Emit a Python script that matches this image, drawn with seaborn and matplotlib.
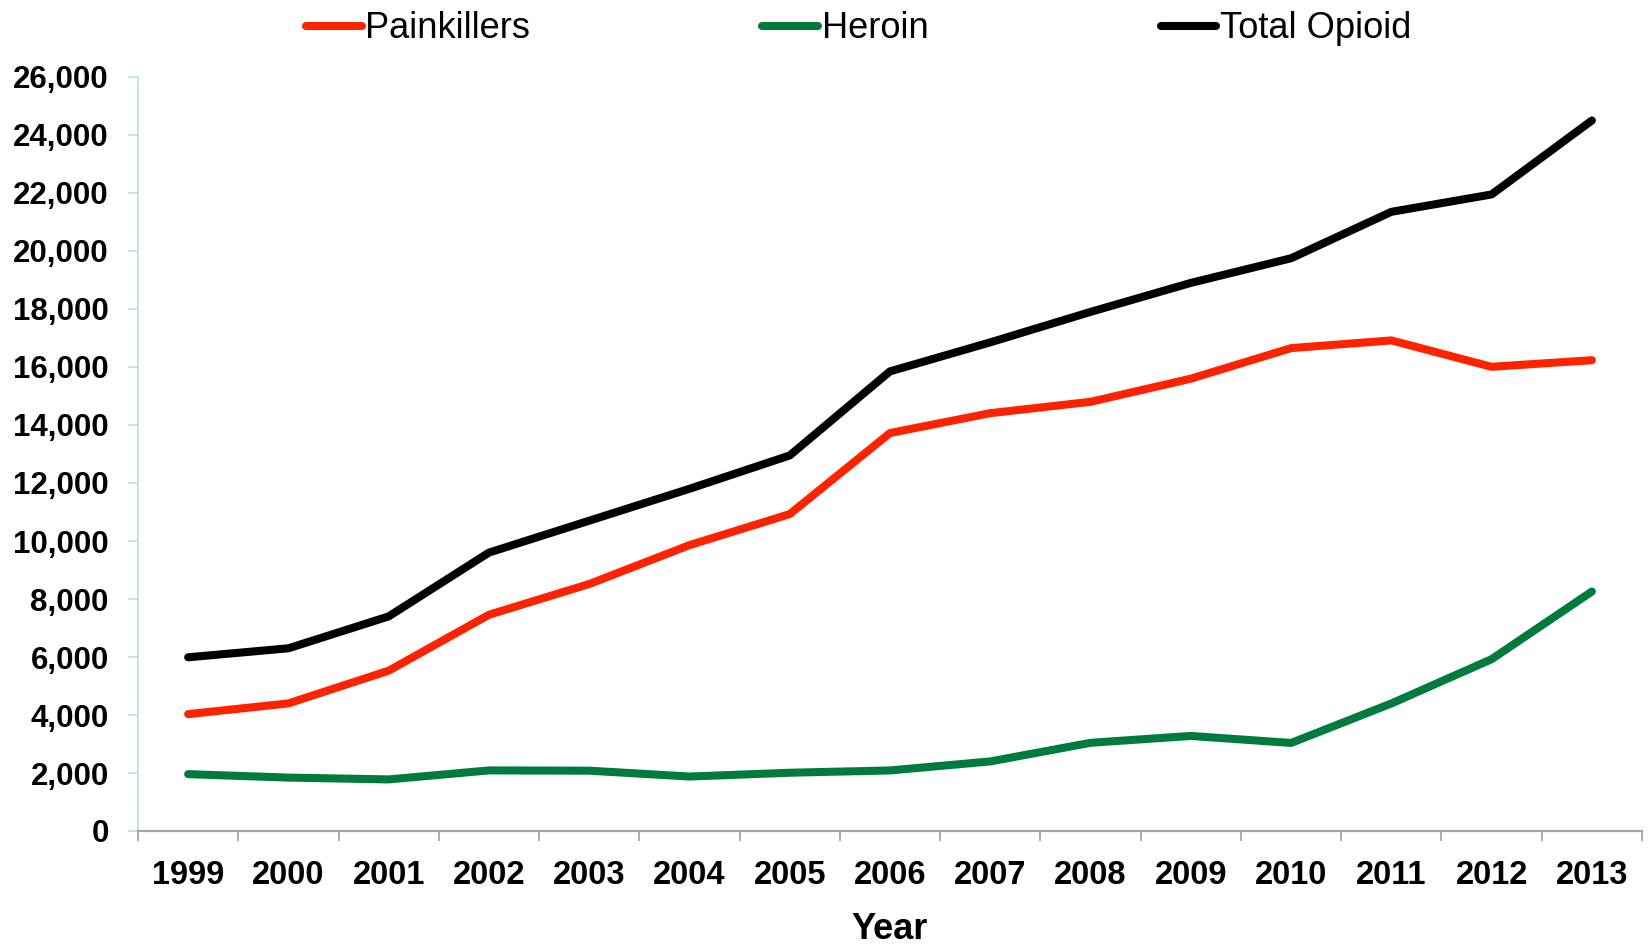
import matplotlib
matplotlib.use("Agg")
import matplotlib.pyplot as plt
import matplotlib.ticker as mticker
import seaborn as sns
import pandas as pd
import numpy as np

years = ["1999", "2000", "2001", "2002", "2003", "2004", "2005", "2006",
         "2007", "2008", "2009", "2010", "2011", "2012", "2013"]
painkillers = [4030, 4400, 5528, 7456, 8517, 9857, 10928, 13723,
               14408, 14800, 15597, 16651, 16917, 16007, 16235]
heroin = [1960, 1842, 1779, 2089, 2080, 1878, 2009, 2088,
          2399, 3041, 3278, 3036, 4397, 5925, 8257]
total_opioid = [5990, 6300, 7400, 9600, 10700, 11800, 12950, 15850,
                16850, 17900, 18900, 19750, 21350, 21950, 24500]

series_names = ["Painkillers", "Heroin", "Total Opioid"]
series_colors = ["#FF2200", "#007A3D", "#000000"]
y_ticks = list(range(0, 26001, 2000))

sns.set_theme(style="white")
plt.rcParams["font.family"] = ["Liberation Sans", "DejaVu Sans"]
plt.rcParams["text.color"] = "black"
plt.rcParams["axes.labelcolor"] = "black"
plt.rcParams["xtick.color"] = "black"
plt.rcParams["ytick.color"] = "black"

pos = np.arange(len(years))
df = pd.concat([
    pd.DataFrame({"pos": pos, "deaths": vals, "series": name})
    for name, vals in zip(series_names, [painkillers, heroin, total_opioid])
])

fig = plt.figure(figsize=(16.5, 9.46), dpi=100)
ax = fig.add_axes([138 / 1650, 1 - 831 / 946, (1642 - 138) / 1650, (831 - 77) / 946])

sns.lineplot(data=df, x="pos", y="deaths", hue="series", hue_order=series_names,
             palette=series_colors, linewidth=5.8, ax=ax, legend=False,
             solid_capstyle="round", solid_joinstyle="round")

ax.set_xlim(-0.5, len(years) - 0.5)
ax.set_ylim(0, 26000)

# Category labels centred, tick marks on the category boundaries
ax.set_xticks(pos)
ax.set_xticklabels(years, fontsize=23.5, fontweight="bold", color="black")
ax.set_xticks(np.arange(-0.5, len(years), 1.0), minor=True)
ax.tick_params(axis="x", which="major", length=0, pad=21)
ax.tick_params(axis="x", which="minor", length=7, width=1.3, color="#A6A6A6",
               direction="out", bottom=True)

ax.set_yticks(y_ticks)
ax.yaxis.set_major_formatter(mticker.FuncFormatter(lambda v, p: f"{int(v):,}"))
ax.tick_params(axis="y", which="major", length=7, width=1.3, color="#BEE0E8",
               labelcolor="black", direction="out", left=True, pad=14,
               labelsize=22.5)
for lbl in ax.get_yticklabels():
    lbl.set_fontweight("bold")

for side in ["top", "right"]:
    ax.spines[side].set_visible(False)
ax.spines["left"].set_color("#BEE0E8")
ax.spines["left"].set_linewidth(1.3)
ax.spines["bottom"].set_color("#A6A6A6")
ax.spines["bottom"].set_linewidth(1.6)
ax.grid(False)

ax.set_ylabel("")
ax.set_xlabel("Year", fontsize=26, fontweight="bold", color="black", labelpad=15)

handles = [plt.Line2D([], [], color=c, linewidth=5.8, solid_capstyle="round")
           for c in series_colors]
leg = fig.legend(handles, series_names, loc="center left",
                 bbox_to_anchor=(306 / 1650, 1 - 29 / 946), ncol=3, frameon=False,
                 fontsize=26.1, handlelength=1.54, handletextpad=0.1,
                 columnspacing=6.4, borderpad=0, borderaxespad=0)
for t in leg.get_texts():
    t.set_color("black")

fig.savefig("out.png", dpi=100)
